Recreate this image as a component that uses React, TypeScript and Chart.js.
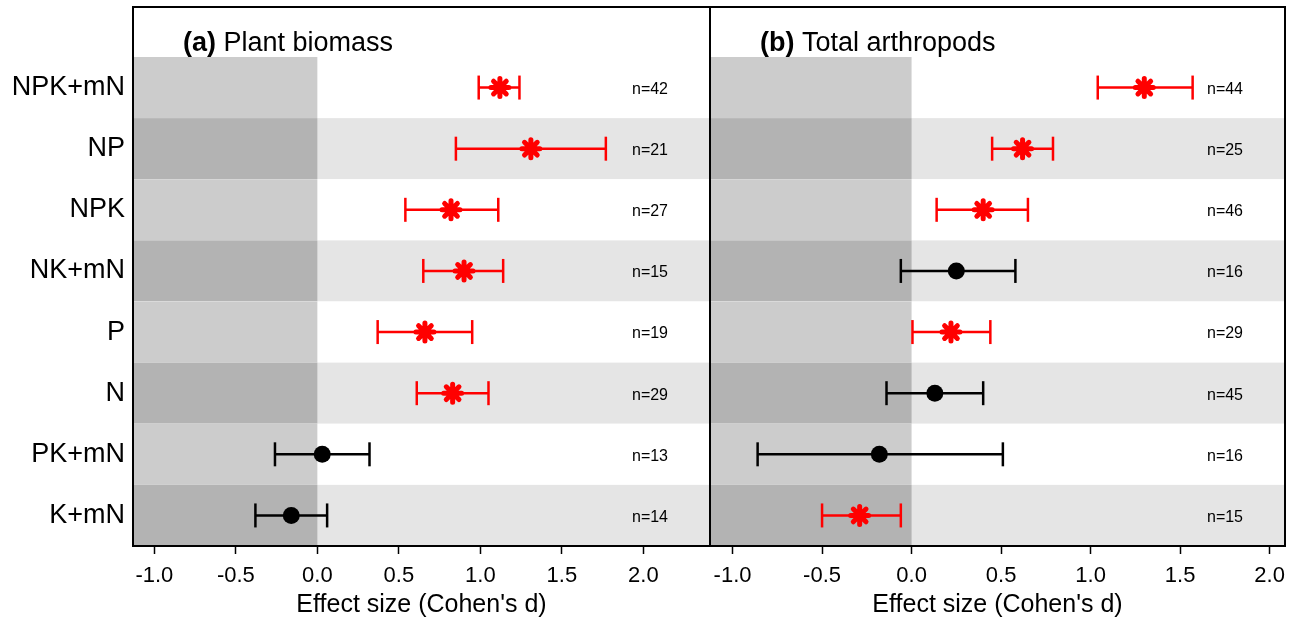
import React, { useEffect, useRef } from "react";
import { Chart, registerables } from "chart.js";

Chart.register(...registerables);

// ---------- data ----------
const categories = ["NPK+mN", "NP", "NPK", "NK+mN", "P", "N", "PK+mN", "K+mN"];
const xTicks = [-1.0, -0.5, 0.0, 0.5, 1.0, 1.5, 2.0];

const plantMean = [1.12, 1.31, 0.82, 0.9, 0.66, 0.83, 0.03, -0.16];
const plantLow = [0.99, 0.85, 0.54, 0.65, 0.37, 0.61, -0.26, -0.38];
const plantHigh = [1.24, 1.77, 1.11, 1.14, 0.95, 1.05, 0.32, 0.06];
const plantN = [42, 21, 27, 15, 19, 29, 13, 14];
const plantSig = [true, true, true, true, true, true, false, false];

const arthMean = [1.3, 0.62, 0.4, 0.25, 0.22, 0.13, -0.18, -0.29];
const arthLow = [1.04, 0.45, 0.14, -0.06, 0.005, -0.14, -0.86, -0.5];
const arthHigh = [1.57, 0.79, 0.65, 0.58, 0.44, 0.4, 0.51, -0.06];
const arthN = [44, 25, 46, 16, 29, 45, 16, 15];
const arthSig = [true, true, true, false, true, false, false, true];

const FONT = "'Liberation Sans', Arial, Helvetica, sans-serif";

interface PanelSpec {
  tag: string;
  title: string;
  mean: number[];
  low: number[];
  high: number[];
  n: number[];
  sig: boolean[];
  xMin: number;
  xMax: number;
  showY: boolean;
  padLeft: number;
  padRight: number;
}

function zeroPad(s: any) {
  s.paddingTop = 0;
  s.paddingBottom = 0;
  s.paddingLeft = 0;
  s.paddingRight = 0;
}

function makePlugin(spec: PanelSpec) {
  return {
    id: "panelDeco" + spec.tag,
    beforeDatasetsDraw(chart: any) {
      const { ctx, chartArea: a, scales } = chart;
      const x = scales.x;
      const y = scales.y;
      const x0 = x.getPixelForValue(0);
      ctx.save();
      ctx.fillStyle = "#ffffff";
      ctx.fillRect(a.left, a.top, a.right - a.left, a.bottom - a.top);
      categories.forEach((_, i) => {
        const t = y.getPixelForValue(i - 0.5);
        const b = y.getPixelForValue(i + 0.5);
        const gray = i % 2 === 1;
        ctx.fillStyle = gray ? "#e5e5e5" : "#ffffff";
        ctx.fillRect(a.left, t, a.right - a.left, b - t);
        ctx.fillStyle = gray ? "#b3b3b3" : "#cccccc";
        ctx.fillRect(a.left, t, x0 - a.left, b - t);
      });
      ctx.restore();
    },
    beforeDatasetDraw(chart: any, args: any) {
      chart.ctx.lineCap = args.index === 0 ? "round" : "butt";
    },
    afterDatasetDraw(chart: any) {
      chart.ctx.lineCap = "butt";
    },
    afterDatasetsDraw(chart: any) {
      const { ctx, chartArea: a, scales } = chart;
      const y = scales.y;
      ctx.save();
      // n labels
      ctx.fillStyle = "#000";
      ctx.font = `16px ${FONT}`;
      ctx.textAlign = "center";
      ctx.textBaseline = "middle";
      spec.n.forEach((v, i) => {
        ctx.fillText("n=" + v, a.right - 60, y.getPixelForValue(i) + 2);
      });
      // title
      ctx.textAlign = "left";
      const tx = a.left + 50;
      const ty = a.top + 37;
      ctx.font = `bold 27px ${FONT}`;
      ctx.fillText(spec.tag, tx, ty);
      const w = ctx.measureText(spec.tag).width;
      ctx.font = `27px ${FONT}`;
      ctx.fillText(" " + spec.title, tx + w, ty);
      // frame
      ctx.strokeStyle = "#000";
      ctx.lineWidth = 2;
      ctx.strokeRect(a.left, a.top, a.right - a.left, a.bottom - a.top);
      ctx.restore();
    },
  };
}

function buildConfig(spec: PanelSpec): any {
  const colorOf = (s: boolean) => (s ? "#ff0000" : "#000000");
  const markers = {
    data: spec.mean.map((m, i) => ({ x: m, y: i })),
    pointStyle: spec.sig.map((s) => (s ? "star" : "circle")),
    pointRadius: spec.sig.map((s) => (s ? 9 : 8.5)),
    pointBorderWidth: spec.sig.map((s) => (s ? 5 : 0)),
    pointBorderColor: spec.sig.map(colorOf),
    pointBackgroundColor: spec.sig.map(colorOf),
    showLine: false,
    order: 0,
    clip: false,
  };
  const bars = spec.mean.map((_, i) => ({
    data: [
      { x: spec.low[i], y: i },
      { x: spec.high[i], y: i },
    ],
    showLine: true,
    borderColor: colorOf(spec.sig[i]),
    borderWidth: 2.5,
    pointStyle: "line",
    rotation: 90,
    pointRadius: 12,
    pointBorderWidth: 2.5,
    pointBorderColor: colorOf(spec.sig[i]),
    pointBackgroundColor: colorOf(spec.sig[i]),
    order: 1,
    clip: false,
  }));

  return {
    type: "scatter",
    data: { datasets: [markers, ...bars] },
    options: {
      animation: false,
      responsive: false,
      devicePixelRatio: 1,
      events: [],
      layout: {
        autoPadding: false,
        padding: { left: spec.padLeft, right: spec.padRight, top: 7, bottom: 0 },
      },
      plugins: { legend: { display: false }, tooltip: { enabled: false } },
      scales: {
        x: {
          type: "linear",
          min: spec.xMin,
          max: spec.xMax,
          afterBuildTicks: (s: any) => {
            s.ticks = xTicks.map((v) => ({ value: v }));
          },
          afterFit: (s: any) => {
            s.height = 72;
            zeroPad(s);
          },
          ticks: {
            callback: (v: number) => Number(v).toFixed(1),
            font: { size: 22, family: FONT },
            color: "#000",
            padding: 9,
            maxRotation: 0,
            minRotation: 0,
            autoSkip: false,
          },
          grid: {
            drawOnChartArea: false,
            drawTicks: true,
            tickLength: 8,
            tickColor: "#000",
            tickWidth: 1.5,
          },
          border: { display: false },
          title: {
            display: true,
            text: "Effect size (Cohen's d)",
            font: { size: 25, family: FONT },
            color: "#000",
            padding: { top: 0, bottom: -2 },
          },
        },
        y: {
          type: "linear",
          reverse: true,
          min: -1.318,
          max: 7.5,
          display: spec.showY,
          afterBuildTicks: (s: any) => {
            s.ticks = categories.map((_, i) => ({ value: i }));
          },
          afterFit: (s: any) => {
            s.width = spec.showY ? 133 : 0;
            zeroPad(s);
          },
          ticks: {
            callback: (_v: number, idx: number) => categories[idx],
            font: { size: 27, family: FONT },
            color: "#000",
            padding: 0,
            autoSkip: false,
          },
          grid: { display: false },
          border: { display: false },
        },
      },
    },
    plugins: [makePlugin(spec)],
  };
}

const panelA: PanelSpec = {
  tag: "(a)",
  title: "Plant biomass",
  mean: plantMean,
  low: plantLow,
  high: plantHigh,
  n: plantN,
  sig: plantSig,
  xMin: -1.131,
  xMax: 2.409,
  showY: true,
  padLeft: 0,
  padRight: 2,
};

const panelB: PanelSpec = {
  tag: "(b)",
  title: "Total arthropods",
  mean: arthMean,
  low: arthLow,
  high: arthHigh,
  n: arthN,
  sig: arthSig,
  xMin: -1.126,
  xMax: 2.086,
  showY: false,
  padLeft: 10,
  padRight: 10,
};

function Panel({ spec, left, width }: { spec: PanelSpec; left: number; width: number }) {
  const ref = useRef<HTMLCanvasElement | null>(null);
  useEffect(() => {
    if (!ref.current) return;
    const chart = new Chart(ref.current, buildConfig(spec));
    return () => chart.destroy();
  }, [spec]);
  return (
    <canvas
      ref={ref}
      width={width}
      height={618}
      style={{ position: "absolute", left, top: 0, width, height: 618 }}
    />
  );
}

export default function App() {
  Chart.defaults.font.family = FONT;
  return (
    <div
      style={{
        position: "absolute",
        left: 0,
        top: 0,
        width: 1295,
        height: 618,
        background: "#ffffff",
        overflow: "hidden",
      }}
    >
      <Panel spec={panelA} left={0} width={712} />
      <Panel spec={panelB} left={700} width={595} />
    </div>
  );
}
